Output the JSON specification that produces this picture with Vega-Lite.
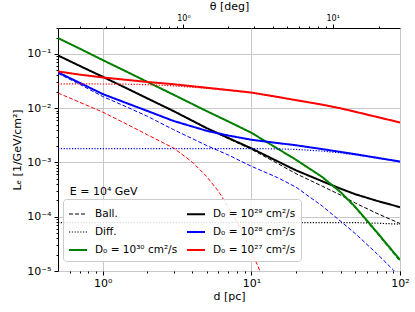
{
  "$schema": "https://vega.github.io/schema/vega-lite/v6.json",
  "width": 342,
  "height": 243,
  "autosize": {"type": "none"},
  "padding": {"left": 58, "top": 28, "right": 15, "bottom": 41},
  "config": {
    "font": "DejaVu Sans",
    "view": {"stroke": "black", "strokeWidth": 1},
    "axis": {"labelColor": "black", "tickColor": "black", "domainColor": "black", "titleColor": "black", "titleFontWeight": "normal", "labelFont": "DejaVu Sans", "titleFont": "DejaVu Sans", "gridColor": "#c8c8c8", "gridWidth": 1},
    "legend": {"orient": "none", "legendX": 5, "legendY": 171, "columns": 2, "symbolType": "stroke", "symbolSize": 324, "labelFontSize": 10.5, "labelOffset": 7, "columnPadding": 5, "rowPadding": 2, "padding": 5, "fillColor": "rgba(255,255,255,0.85)", "strokeColor": "#cccccc", "cornerRadius": 3, "labelColor": "black", "labelFont": "DejaVu Sans"}
  },
  "datasets": {
    "curves": [
      {"key": "D₀ = 10²⁹ cm²/s", "d": 0.5, "L": 0.0937}, {"key": "D₀ = 10²⁹ cm²/s", "d": 0.7, "L": 0.0601}, {"key": "D₀ = 10²⁹ cm²/s", "d": 1, "L": 0.0379}, {"key": "D₀ = 10²⁹ cm²/s", "d": 1.5, "L": 0.0222}, {"key": "D₀ = 10²⁹ cm²/s", "d": 2, "L": 0.0151}, {"key": "D₀ = 10²⁹ cm²/s", "d": 3, "L": 0.00883}, {"key": "D₀ = 10²⁹ cm²/s", "d": 5, "L": 0.0043}, {"key": "D₀ = 10²⁹ cm²/s", "d": 7, "L": 0.00282}, {"key": "D₀ = 10²⁹ cm²/s", "d": 10, "L": 0.00182}, {"key": "D₀ = 10²⁹ cm²/s", "d": 15, "L": 0.00105}, {"key": "D₀ = 10²⁹ cm²/s", "d": 20, "L": 0.000714}, {"key": "D₀ = 10²⁹ cm²/s", "d": 30, "L": 0.00045}, {"key": "D₀ = 10²⁹ cm²/s", "d": 40, "L": 0.000327}, {"key": "D₀ = 10²⁹ cm²/s", "d": 50, "L": 0.00026}, {"key": "D₀ = 10²⁹ cm²/s", "d": 70, "L": 0.000196}, {"key": "D₀ = 10²⁹ cm²/s", "d": 100, "L": 0.00015},
      {"key": "Ball.", "d": 0.5, "L": 0.0936}, {"key": "Ball.", "d": 0.7, "L": 0.06}, {"key": "Ball.", "d": 1, "L": 0.0378}, {"key": "Ball.", "d": 1.5, "L": 0.0221}, {"key": "Ball.", "d": 2, "L": 0.015}, {"key": "Ball.", "d": 3, "L": 0.0087}, {"key": "Ball.", "d": 5, "L": 0.00422}, {"key": "Ball.", "d": 7, "L": 0.00274}, {"key": "Ball.", "d": 10, "L": 0.00174}, {"key": "Ball.", "d": 15, "L": 0.00096}, {"key": "Ball.", "d": 20, "L": 0.00062}, {"key": "Ball.", "d": 30, "L": 0.000365}, {"key": "Ball.", "d": 40, "L": 0.000249}, {"key": "Ball.", "d": 50, "L": 0.000179}, {"key": "Ball.", "d": 70, "L": 0.000115}, {"key": "Ball.", "d": 100, "L": 0.000075},
      {"key": "Diff.", "d": 0.5, "L": 0.000078}, {"key": "Diff.", "d": 1, "L": 0.000078}, {"key": "Diff.", "d": 3, "L": 0.000078}, {"key": "Diff.", "d": 10, "L": 0.000078}, {"key": "Diff.", "d": 30, "L": 0.000078}, {"key": "Diff.", "d": 50, "L": 0.000078}, {"key": "Diff.", "d": 70, "L": 0.000076}, {"key": "Diff.", "d": 100, "L": 0.000073},
      {"key": "D₀ = 10³⁰ cm²/s", "d": 0.5, "L": 0.196}, {"key": "D₀ = 10³⁰ cm²/s", "d": 0.7, "L": 0.125}, {"key": "D₀ = 10³⁰ cm²/s", "d": 1, "L": 0.0769}, {"key": "D₀ = 10³⁰ cm²/s", "d": 1.5, "L": 0.0448}, {"key": "D₀ = 10³⁰ cm²/s", "d": 2, "L": 0.0304}, {"key": "D₀ = 10³⁰ cm²/s", "d": 3, "L": 0.01766}, {"key": "D₀ = 10³⁰ cm²/s", "d": 5, "L": 0.00883}, {"key": "D₀ = 10³⁰ cm²/s", "d": 7, "L": 0.00569}, {"key": "D₀ = 10³⁰ cm²/s", "d": 10, "L": 0.00352}, {"key": "D₀ = 10³⁰ cm²/s", "d": 15, "L": 0.0018}, {"key": "D₀ = 10³⁰ cm²/s", "d": 20, "L": 0.001117}, {"key": "D₀ = 10³⁰ cm²/s", "d": 30, "L": 0.000538}, {"key": "D₀ = 10³⁰ cm²/s", "d": 40, "L": 0.000281}, {"key": "D₀ = 10³⁰ cm²/s", "d": 50, "L": 0.000152}, {"key": "D₀ = 10³⁰ cm²/s", "d": 70, "L": 0.0000518}, {"key": "D₀ = 10³⁰ cm²/s", "d": 100, "L": 0.000016},
      {"key": "g_b", "d": 0.5, "L": 0.196}, {"key": "g_b", "d": 0.7, "L": 0.125}, {"key": "g_b", "d": 1, "L": 0.0769}, {"key": "g_b", "d": 1.5, "L": 0.0448}, {"key": "g_b", "d": 2, "L": 0.0304}, {"key": "g_b", "d": 3, "L": 0.01766}, {"key": "g_b", "d": 5, "L": 0.00883}, {"key": "g_b", "d": 7, "L": 0.00569}, {"key": "g_b", "d": 10, "L": 0.00352}, {"key": "g_b", "d": 15, "L": 0.0018}, {"key": "g_b", "d": 20, "L": 0.001115}, {"key": "g_b", "d": 30, "L": 0.000535}, {"key": "g_b", "d": 40, "L": 0.000276}, {"key": "g_b", "d": 50, "L": 0.000145}, {"key": "g_b", "d": 70, "L": 0.000049}, {"key": "g_b", "d": 100, "L": 0.000015},
      {"key": "D₀ = 10²⁸ cm²/s", "d": 0.5, "L": 0.0456}, {"key": "D₀ = 10²⁸ cm²/s", "d": 0.7, "L": 0.0293}, {"key": "D₀ = 10²⁸ cm²/s", "d": 1, "L": 0.0182}, {"key": "D₀ = 10²⁸ cm²/s", "d": 1.5, "L": 0.01194}, {"key": "D₀ = 10²⁸ cm²/s", "d": 2, "L": 0.00887}, {"key": "D₀ = 10²⁸ cm²/s", "d": 3, "L": 0.00581}, {"key": "D₀ = 10²⁸ cm²/s", "d": 5, "L": 0.00383}, {"key": "D₀ = 10²⁸ cm²/s", "d": 7, "L": 0.00313}, {"key": "D₀ = 10²⁸ cm²/s", "d": 10, "L": 0.00262}, {"key": "D₀ = 10²⁸ cm²/s", "d": 15, "L": 0.00228}, {"key": "D₀ = 10²⁸ cm²/s", "d": 20, "L": 0.00207}, {"key": "D₀ = 10²⁸ cm²/s", "d": 30, "L": 0.00176}, {"key": "D₀ = 10²⁸ cm²/s", "d": 40, "L": 0.00156}, {"key": "D₀ = 10²⁸ cm²/s", "d": 50, "L": 0.00142}, {"key": "D₀ = 10²⁸ cm²/s", "d": 70, "L": 0.00122}, {"key": "D₀ = 10²⁸ cm²/s", "d": 100, "L": 0.00104},
      {"key": "b_b", "d": 0.5, "L": 0.0438}, {"key": "b_b", "d": 0.7, "L": 0.0275}, {"key": "b_b", "d": 1, "L": 0.0164}, {"key": "b_b", "d": 1.5, "L": 0.0101}, {"key": "b_b", "d": 2, "L": 0.00707}, {"key": "b_b", "d": 3, "L": 0.00401}, {"key": "b_b", "d": 5, "L": 0.00205}, {"key": "b_b", "d": 7, "L": 0.00137}, {"key": "b_b", "d": 10, "L": 0.00085}, {"key": "b_b", "d": 15, "L": 0.000526}, {"key": "b_b", "d": 20, "L": 0.00035}, {"key": "b_b", "d": 30, "L": 0.000157}, {"key": "b_b", "d": 40, "L": 0.0000818}, {"key": "b_b", "d": 50, "L": 0.000049}, {"key": "b_b", "d": 70, "L": 0.0000208}, {"key": "b_b", "d": 90, "L": 0.0000105}, {"key": "b_b", "d": 100, "L": 0.0000075},
      {"key": "b_d", "d": 0.5, "L": 0.0018}, {"key": "b_d", "d": 2, "L": 0.0018}, {"key": "b_d", "d": 10, "L": 0.0018}, {"key": "b_d", "d": 15, "L": 0.00178}, {"key": "b_d", "d": 20, "L": 0.00174}, {"key": "b_d", "d": 30, "L": 0.00162}, {"key": "b_d", "d": 40, "L": 0.0015}, {"key": "b_d", "d": 50, "L": 0.00138}, {"key": "b_d", "d": 70, "L": 0.0012}, {"key": "b_d", "d": 100, "L": 0.00103},
      {"key": "D₀ = 10²⁷ cm²/s", "d": 0.5, "L": 0.0475}, {"key": "D₀ = 10²⁷ cm²/s", "d": 0.7, "L": 0.0415}, {"key": "D₀ = 10²⁷ cm²/s", "d": 1, "L": 0.0368}, {"key": "D₀ = 10²⁷ cm²/s", "d": 1.5, "L": 0.0329}, {"key": "D₀ = 10²⁷ cm²/s", "d": 2, "L": 0.0304}, {"key": "D₀ = 10²⁷ cm²/s", "d": 3, "L": 0.0276}, {"key": "D₀ = 10²⁷ cm²/s", "d": 5, "L": 0.0238}, {"key": "D₀ = 10²⁷ cm²/s", "d": 7, "L": 0.0216}, {"key": "D₀ = 10²⁷ cm²/s", "d": 10, "L": 0.0194}, {"key": "D₀ = 10²⁷ cm²/s", "d": 15, "L": 0.0161}, {"key": "D₀ = 10²⁷ cm²/s", "d": 20, "L": 0.01406}, {"key": "D₀ = 10²⁷ cm²/s", "d": 30, "L": 0.01161}, {"key": "D₀ = 10²⁷ cm²/s", "d": 40, "L": 0.00991}, {"key": "D₀ = 10²⁷ cm²/s", "d": 50, "L": 0.00859}, {"key": "D₀ = 10²⁷ cm²/s", "d": 70, "L": 0.00689}, {"key": "D₀ = 10²⁷ cm²/s", "d": 100, "L": 0.00545},
      {"key": "r_d", "d": 0.5, "L": 0.028}, {"key": "r_d", "d": 0.7, "L": 0.028}, {"key": "r_d", "d": 1, "L": 0.0279}, {"key": "r_d", "d": 1.5, "L": 0.0276}, {"key": "r_d", "d": 2, "L": 0.0271}, {"key": "r_d", "d": 3, "L": 0.0258}, {"key": "r_d", "d": 5, "L": 0.0232}, {"key": "r_d", "d": 7, "L": 0.0213}, {"key": "r_d", "d": 10, "L": 0.0194}, {"key": "r_d", "d": 15, "L": 0.0161}, {"key": "r_d", "d": 20, "L": 0.014}, {"key": "r_d", "d": 30, "L": 0.0116}, {"key": "r_d", "d": 40, "L": 0.0099}, {"key": "r_d", "d": 50, "L": 0.0086}, {"key": "r_d", "d": 70, "L": 0.0069}, {"key": "r_d", "d": 100, "L": 0.00545},
      {"key": "r_b", "d": 0.5, "L": 0.019}, {"key": "r_b", "d": 0.7, "L": 0.01285}, {"key": "r_b", "d": 1, "L": 0.00847}, {"key": "r_b", "d": 1.5, "L": 0.00484}, {"key": "r_b", "d": 2, "L": 0.00323}, {"key": "r_b", "d": 3, "L": 0.00184}, {"key": "r_b", "d": 4, "L": 0.00102}, {"key": "r_b", "d": 5, "L": 0.000552}, {"key": "r_b", "d": 6, "L": 0.000295}, {"key": "r_b", "d": 7, "L": 0.00015}, {"key": "r_b", "d": 8, "L": 0.0000813}, {"key": "r_b", "d": 9, "L": 0.0000428}, {"key": "r_b", "d": 10, "L": 0.0000215}, {"key": "r_b", "d": 11, "L": 0.0000129}, {"key": "r_b", "d": 12, "L": 0.000007}
    ],
    "notes": [{"d": 0.6, "L": 0.000287, "label": "E = 10⁴ GeV"}]
  },
  "layer": [
    {
      "data": {"name": "curves"},
      "mark": {"type": "line", "clip": true},
      "encoding": {
        "x": {"field": "d", "type": "quantitative", "scale": {"type": "log", "domain": [0.5, 100], "nice": false},
          "axis": {"title": "d [pc]", "titleFontSize": 11, "labelFontSize": 11, "values": [0.6,0.7,0.8,0.9,1,2,3,4,5,6,7,8,9,10,20,30,40,50,60,70,80,90,100],
            "labelExpr": "datum.value==1?'10⁰':datum.value==10?'10¹':datum.value==100?'10²':''",
            "tickSize": {"condition": {"test": "datum.value==1||datum.value==10||datum.value==100", "value": 4}, "value": 2},
            "gridOpacity": {"condition": {"test": "datum.value==1||datum.value==10||datum.value==100", "value": 1}, "value": 0},
            "grid": true, "labelOverlap": false, "labelFlush": false, "labelPadding": 2, "titlePadding": 2, "domain": false}},
        "y": {"field": "L", "type": "quantitative", "scale": {"type": "log", "domain": [0.00001, 0.3], "nice": false},
          "axis": {"title": "Lₑ [1/GeV/cm²]", "titleFontSize": 11, "labelFontSize": 11,
            "values": [0.00001,0.00002,0.00003,0.00004,0.00005,0.00006,0.00007,0.00008,0.00009,0.0001,0.0002,0.0003,0.0004,0.0005,0.0006,0.0007,0.0008,0.0009,0.001,0.002,0.003,0.004,0.005,0.006,0.007,0.008,0.009,0.01,0.02,0.03,0.04,0.05,0.06,0.07,0.08,0.09,0.1,0.2,0.3],
            "labelExpr": "datum.value==0.00001?'10⁻⁵':datum.value==0.0001?'10⁻⁴':datum.value==0.001?'10⁻³':datum.value==0.01?'10⁻²':datum.value==0.1?'10⁻¹':''",
            "tickSize": {"condition": {"test": "datum.value==0.00001||datum.value==0.0001||datum.value==0.001||datum.value==0.01||datum.value==0.1", "value": 4}, "value": 2},
            "gridOpacity": {"condition": {"test": "datum.value==0.00001||datum.value==0.0001||datum.value==0.001||datum.value==0.01||datum.value==0.1", "value": 1}, "value": 0},
            "grid": true, "labelOverlap": false, "labelFlush": false, "labelPadding": 3, "titlePadding": 4, "domain": false}},
        "color": {"field": "key", "type": "nominal",
          "scale": {"domain": ["Ball.", "Diff.", "D₀ = 10³⁰ cm²/s", "D₀ = 10²⁹ cm²/s", "D₀ = 10²⁸ cm²/s", "D₀ = 10²⁷ cm²/s", "g_b", "b_b", "b_d", "r_b", "r_d"],
            "range": ["#000000", "#000000", "#008000", "#000000", "#0000ff", "#ff0000", "#008000", "#0000ff", "#0000ff", "#ff0000", "#ff0000"]},
          "legend": {"values": ["Ball.", "Diff.", "D₀ = 10³⁰ cm²/s", "D₀ = 10²⁹ cm²/s", "D₀ = 10²⁸ cm²/s", "D₀ = 10²⁷ cm²/s"], "title": null}},
        "strokeDash": {"field": "key", "type": "nominal",
          "scale": {"domain": ["Ball.", "Diff.", "D₀ = 10³⁰ cm²/s", "D₀ = 10²⁹ cm²/s", "D₀ = 10²⁸ cm²/s", "D₀ = 10²⁷ cm²/s", "g_b", "b_b", "b_d", "r_b", "r_d"],
            "range": [[4, 2], [1.2, 1.6], [1, 0], [1, 0], [1, 0], [1, 0], [4, 2], [4, 2], [1.2, 1.6], [4, 2], [1.2, 1.6]]},
          "legend": {"values": ["Ball.", "Diff.", "D₀ = 10³⁰ cm²/s", "D₀ = 10²⁹ cm²/s", "D₀ = 10²⁸ cm²/s", "D₀ = 10²⁷ cm²/s"], "title": null}},
        "strokeWidth": {"field": "key", "type": "nominal",
          "scale": {"type": "ordinal", "domain": ["Ball.", "Diff.", "D₀ = 10³⁰ cm²/s", "D₀ = 10²⁹ cm²/s", "D₀ = 10²⁸ cm²/s", "D₀ = 10²⁷ cm²/s", "g_b", "b_b", "b_d", "r_b", "r_d"],
            "range": [1, 1.2, 2, 2, 2, 2, 1, 1, 1.2, 1, 1.2]},
          "legend": {"values": ["Ball.", "Diff.", "D₀ = 10³⁰ cm²/s", "D₀ = 10²⁹ cm²/s", "D₀ = 10²⁸ cm²/s", "D₀ = 10²⁷ cm²/s"], "title": null}}
      }
    },
    {
      "data": {"name": "notes"},
      "mark": {"type": "text", "align": "left", "baseline": "middle", "fontSize": 11, "font": "DejaVu Sans", "color": "black"},
      "encoding": {
        "x": {"field": "d", "type": "quantitative", "scale": {"type": "log", "domain": [0.5, 100], "nice": false},
          "axis": {"orient": "top", "title": "θ [deg]", "titleFontSize": 11, "labelFontSize": 8, "grid": false, "domain": false,
            "values": [0.698, 1.047, 1.396, 1.745, 2.094, 2.443, 2.793, 3.142, 3.491, 6.984, 10.48, 13.99, 17.5, 21.02, 24.56, 28.11, 31.68, 35.265, 72.79],
            "labelExpr": "datum.value==3.491?'10⁰':datum.value==35.265?'10¹':''",
            "tickSize": {"condition": {"test": "datum.value==3.491||datum.value==35.265", "value": 4}, "value": 2},
            "labelOverlap": false, "labelFlush": false, "labelPadding": 2, "titlePadding": 3}},
        "y": {"field": "L", "type": "quantitative", "scale": {"type": "log", "domain": [0.00001, 0.3], "nice": false}, "axis": null},
        "text": {"field": "label"}
      }
    }
  ],
  "resolve": {"axis": {"x": "independent", "y": "independent"}}
}
